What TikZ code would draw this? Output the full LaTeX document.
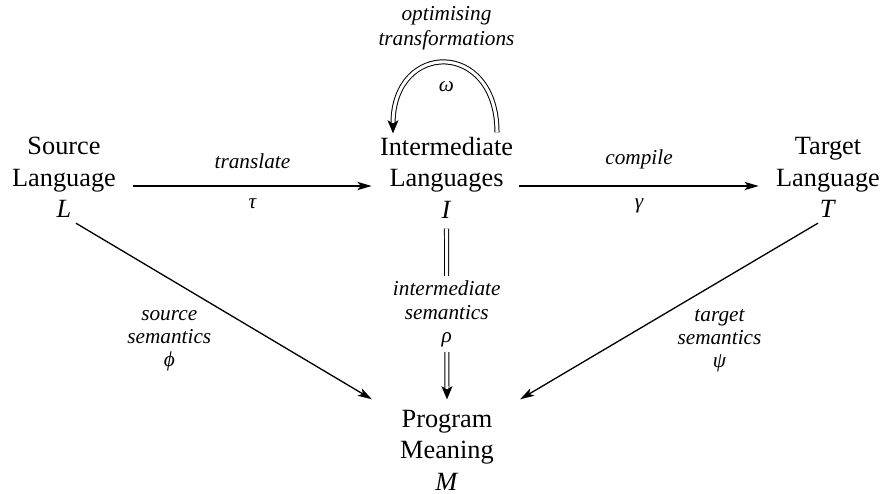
\documentclass[tikz,border=0pt]{standalone}
\usepackage{fontspec}
\setmainfont{Liberation Serif}[Ligatures=TeX]
\usetikzlibrary{arrows.meta,calc}

\tikzset{
lang/.style={align=center, inner sep=0pt, font=\rmfamily\fontsize{12}{14.4}\selectfont},
lbl/.style={align=center, inner sep=0pt, font=\rmfamily\fontsize{9.7}{10.6}\selectfont\itshape},
arr/.style={line width=0.6pt, -{Stealth[length=6.5pt,width=3.8pt,inset=1.6pt]}},
darr/.style={line width=0.45pt, double, double distance=1.4pt, -{Stealth[length=6pt,width=5pt,inset=1.5pt]}}
}

\begin{document}
\begin{tikzpicture}[x=0.456pt,y=-0.456pt]
\useasboundingbox (0,0) rectangle (883,494);

% The languages
\node[lang] (src) at (64,177.5) {Source\\Language\\\textit{L}};
\node[lang] (inter) at (446.5,177.5) {Intermediate\\Languages\\\textit{I}};
\node[lang] (tgt) at (828,177.5) {Target\\Language\\\textit{T}};
\node[lang] (mean) at (447,450) {Program\\Meaning\\\textit{M}};

% The translations
\draw[arr] ($(src.east)+(17,8.5)$) -- node[lbl, above=7.5pt] {translate} node[lbl, below=5.5pt] {τ} ($(inter.west)+(-8,8.5)$);
\draw[arr] ($(inter.east)+(6,8.5)$) -- node[lbl, above=7.5pt] {compile} node[lbl, below=5.5pt] {γ} ($(tgt.west)+(-17,8.5)$);

% The loop
\draw[darr] ($(inter.north)+(50.5,-4)$) .. controls +(0,-93) and +(0,-93) .. ($(inter.north)+(-53.5,-3)$);
\node[lbl] (omega) at ($(inter.north)+(0,-49.5)$) {ω};
\node[lbl, font=\rmfamily\fontsize{9.7}{11.4}\selectfont\itshape] (opt) at ($(inter.north)+(0,-108)$) {optimising\\transformations};

% The semantics
\draw[arr] ($(src.south)+(12,5)$) -- node[lbl, pos=0.648, left=25.5pt, yshift=-1.5pt] {source\\semantics\\ϕ} ($(mean.north)+(-75,-10)$);
\draw[arr] ($(tgt.south)+(-10,5)$) -- node[lbl, pos=0.648, right=23.7pt, yshift=-1.5pt] {target\\semantics\\ψ} ($(mean.north)+(73,-10)$);
\draw[darr] ($(inter.south)+(0,10)$) -- node[lbl, fill=white, inner xsep=1pt, inner ysep=2.5pt] {intermediate\\semantics\\ρ} ($(mean.north)+(0,-10)$);
\end{tikzpicture}
\end{document}
